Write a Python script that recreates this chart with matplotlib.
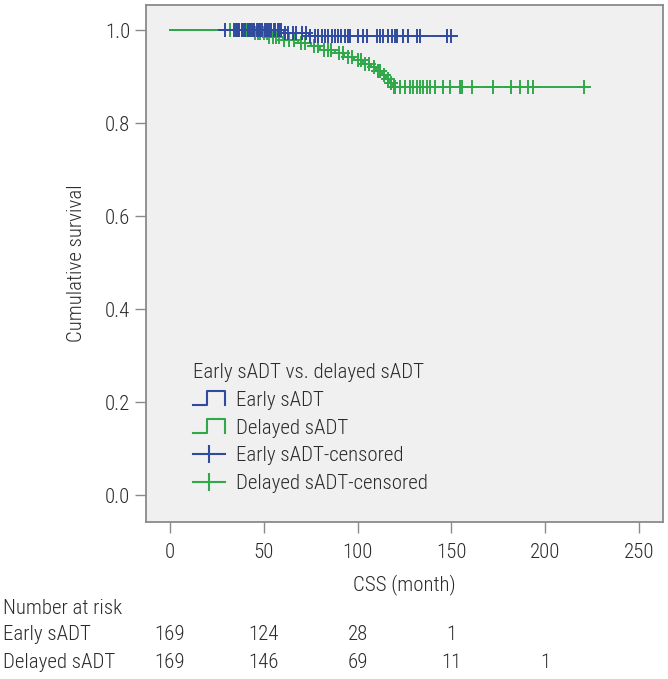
import numpy as np
import matplotlib
matplotlib.use("Agg")
import matplotlib.pyplot as plt
from matplotlib.lines import Line2D
from matplotlib.legend_handler import HandlerBase
import matplotlib.transforms as mtransforms
from matplotlib import font_manager

names = sorted({f.name for f in font_manager.fontManager.ttflist})
cands = [n for n in ['Roboto Condensed', 'Liberation Sans Narrow', 'DejaVu Sans Condensed'] if n in names]
plt.rcParams['font.family'] = cands + ['Roboto', 'DejaVu Sans']
plt.rcParams['font.weight'] = 'light'
plt.rcParams['axes.labelweight'] = 'light'

# ---------------- data ----------------
early_event_times = [61, 74]
early_event_surv = [0.994, 0.988]
early_end = 150
early_censor = [29.5, 34, 35.2, 36.1, 37, 38.3, 39, 40.2, 41.5, 42, 43.4, 44.1, 45,
                46.3, 47.5, 48, 49.2, 50.6, 51.4, 52.2, 53.5, 54, 55.3, 56.1, 57.4,
                58.3, 59.4, 61.2, 63, 65.6, 67.4, 70.1, 72.7, 74.5, 77.2, 79, 80.8,
                82.5, 84.3, 86.1, 87.9, 89.7, 91.4, 93.2, 95, 95.9, 100.3, 103, 104.8,
                110.1, 111.9, 113.7, 116.3, 118.1, 119.9, 120.8, 124.4, 127, 131.5,
                133.3, 147.5, 150]

delayed_event_times = [45, 52, 60, 68, 75, 80, 88, 93, 98, 103, 107, 110, 113, 115, 117, 119]
delayed_event_surv = [0.993, 0.986, 0.979, 0.972, 0.965, 0.958, 0.950, 0.943, 0.936,
                      0.928, 0.920, 0.912, 0.903, 0.894, 0.886, 0.878]
delayed_end = 220.7
delayed_censor = [32, 35.5, 37, 38.4, 40, 41.3, 42.5, 44, 45.5, 47, 48.2, 50, 51.5, 53,
                  55, 56.5, 58, 61, 63.5, 66, 70, 72, 77, 79, 82, 84, 86, 90, 92, 95,
                  97, 100, 102, 104, 106, 108.5, 111, 112, 114, 116, 118, 119.5, 120.2,
                  122.6, 125.3, 127.9, 129.7, 131.5, 133.3, 135, 136.8, 138.6, 141.3,
                  145.7, 149.3, 154.6, 155.5, 160.8, 172.3, 182, 186.6, 191, 193.7, 220.7]

risk_times = [0, 50, 100, 150, 200]
risk_early = ["169", "124", "28", "1", ""]
risk_delayed = ["169", "146", "69", "11", "1"]

xticks = [0, 50, 100, 150, 200, 250]
yticks = [0.0, 0.2, 0.4, 0.6, 0.8, 1.0]

BLUE = '#2f4a9e'
GREEN = '#2fa84a'
TXT = '#2b2b2b'
GREY = '#8a8a8a'
FS = 15

# ---------------- figure ----------------
fig = plt.figure(figsize=(6.68, 6.79), dpi=100)
ax = fig.add_axes([146/668, 1-522/679, 517/668, 517/679])
ax.set_facecolor('#f0f0f0')
ax.set_xlim(-12.8, 262.8)
ax.set_ylim(-0.058, 1.054)


def km_curve(ev_t, ev_s, end):
    t = np.concatenate([[0.0], ev_t, [end]])
    s = np.concatenate([[1.0], ev_s, [ev_s[-1]]])
    return t, s


def surv_at(times, ev_t, ev_s):
    t = np.concatenate([[0.0], ev_t])
    s = np.concatenate([[1.0], ev_s])
    idx = np.searchsorted(t, np.asarray(times), side='right') - 1
    return s[idx]


te, se = km_curve(early_event_times, early_event_surv, early_end)
td, sd = km_curve(delayed_event_times, delayed_event_surv, delayed_end)

ax.step(te, se, where='post', color=BLUE, lw=1.4, zorder=3)
ax.step(td, sd, where='post', color=GREEN, lw=1.4, zorder=4)
ax.plot(delayed_censor, surv_at(delayed_censor, delayed_event_times, delayed_event_surv),
        ls='none', marker='+', ms=10, mew=1.4, color=GREEN, zorder=5)
ax.plot(early_censor, surv_at(early_censor, early_event_times, early_event_surv),
        ls='none', marker='+', ms=10, mew=1.4, color=BLUE, zorder=6)

# axes styling
for sp in ax.spines.values():
    sp.set_color(GREY)
    sp.set_linewidth(1.3)
ax.set_xticks(xticks)
ax.set_yticks(yticks)
ax.set_yticklabels([f"{v:.1f}" for v in yticks])
ax.tick_params(axis='both', colors=GREY, length=8, width=1.0, labelsize=FS,
               labelcolor=TXT)
ax.tick_params(axis='x', pad=7)
ax.tick_params(axis='y', pad=3.5)

ax.set_xlabel('CSS (month)', fontsize=FS, color=TXT, fontweight='light')
ax.xaxis.set_label_coords(0.5, (522-585)/517)
ax.xaxis.label.set_va('center')
ax.set_ylabel('Cumulative survival', fontsize=FS, color=TXT, fontweight='light')
ax.yaxis.set_label_coords((77-146)/517, 0.5)
ax.yaxis.label.set_va('center')


# legend
class StepHandler(HandlerBase):
    def create_artists(self, legend, orig_handle, xdescent, ydescent, width, height,
                       fontsize, trans):
        x0 = -xdescent
        y0 = -ydescent
        xs = [x0, x0 + 0.42*width, x0 + 0.42*width, x0 + width, x0 + width]
        ys = [y0 + 0.05*height, y0 + 0.05*height, y0 + 1.0*height, y0 + 1.0*height,
              y0 + 0.05*height]
        ln = Line2D(xs, ys, color=orig_handle.get_color(), lw=1.5, transform=trans)
        return [ln]


h1 = Line2D([], [], color=BLUE)
h2 = Line2D([], [], color=GREEN)
h3 = Line2D([0], [0], color=BLUE, lw=1.5, marker='|', ms=13, mew=1.5)
h4 = Line2D([0], [0], color=GREEN, lw=1.5, marker='|', ms=13, mew=1.5)
leg = ax.legend([h1, h2, h3, h4],
                ['Early sADT', 'Delayed sADT', 'Early sADT-censored', 'Delayed sADT-censored'],
                handler_map={h1: StepHandler(), h2: StepHandler()},
                title='Early sADT vs. delayed sADT', title_fontsize=FS, fontsize=FS,
                loc='upper left', bbox_to_anchor=((193-146)/517, (522-363)/517),
                frameon=False, borderpad=0, borderaxespad=0, handlelength=1.55,
                handletextpad=0.5, labelspacing=0.42, numpoints=1,
                alignment='left')
for t in leg.get_texts():
    t.set_color(TXT)
leg.get_title().set_color(TXT)

# number at risk table
trans = mtransforms.blended_transform_factory(ax.transData, fig.transFigure)
fig.text(3/668, 1-608/679, 'Number at risk', fontsize=FS, color=TXT, va='center', ha='left')
fig.text(3/668, 1-635/679, 'Early sADT', fontsize=FS, color=TXT, va='center', ha='left')
fig.text(3/668, 1-662/679, 'Delayed sADT', fontsize=FS, color=TXT, va='center', ha='left')
for xt, a, b in zip(risk_times, risk_early, risk_delayed):
    ax.text(xt, 1-635/679, a, transform=trans, fontsize=FS, color=TXT,
            ha='center', va='center', clip_on=False)
    ax.text(xt, 1-662/679, b, transform=trans, fontsize=FS, color=TXT,
            ha='center', va='center', clip_on=False)

fig.savefig('out.png', dpi=100, facecolor='white')
